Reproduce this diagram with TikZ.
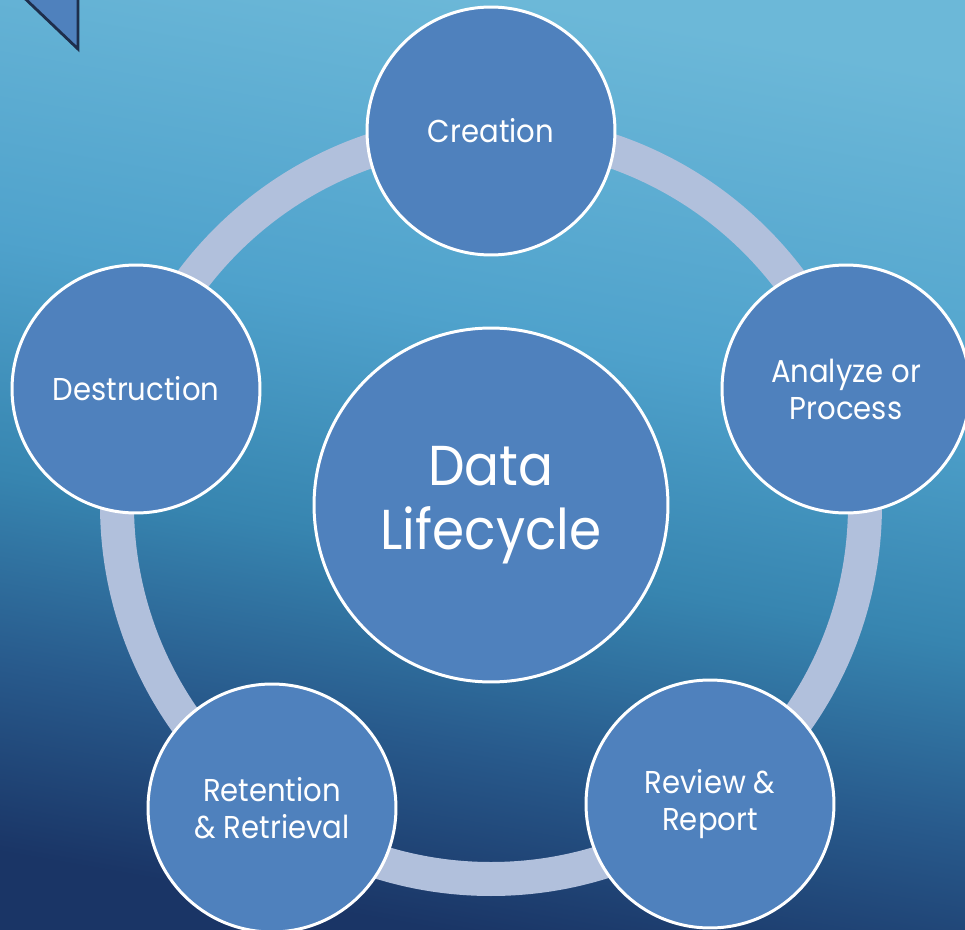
\documentclass[tikz,border=0pt]{standalone}
\usepackage{fontspec}
\setmainfont[FakeStretch=0.92]{Poppins}
\definecolor{bgA}{HTML}{6CB8D8}
\definecolor{bgB}{HTML}{4FA2CC}
\definecolor{bgC}{HTML}{3785B0}
\definecolor{bgD}{HTML}{285A8C}
\definecolor{bgE}{HTML}{1A3566}
\definecolor{circfill}{HTML}{4F81BD}
\definecolor{ringcol}{HTML}{B1C0DC}
\definecolor{edgedark}{HTML}{1E2E4C}
% the path's box spans 25bp..75bp of the shading
\pgfdeclareverticalshading{bgshade}{100bp}{color(0bp)=(bgE); color(25bp)=(bgE); color(35bp)=(bgD); color(45bp)=(bgC); color(57.5bp)=(bgB); color(75bp)=(bgA); color(100bp)=(bgA)}
\begin{document}
\begin{tikzpicture}[x=0.02cm,y=-0.02cm,
  stage/.style={circle, fill=circfill, draw=white, line width=1.7pt,
    minimum size=4.96cm, inner sep=0pt, text=white, align=center,
    font=\fontsize{18pt}{21pt}\selectfont},
  hub/.style={stage, minimum size=7.08cm,
    font=\fontsize{32pt}{36.8pt}\selectfont},
  ring/.style={draw=ringcol, line width=0.68cm}]
\useasboundingbox (0,0) rectangle (965,930);
\clip (0,0) rectangle (965,930);
% background
\shade[shading=bgshade, shading angle=-10] (0,0) rectangle (965,930);
% corner tab
\filldraw[fill=circfill, draw=edgedark, line width=1.6pt, line join=miter]
  (16,-10) -- (78,49) -- (78,-10) -- cycle;
% centre position and cycle ring
\coordinate (c) at (491,505);
\draw[ring] (c) circle[radius=374];
% stages
\node[hub] (hub) at (c) {Data\\Lifecycle};
\node[stage] (creation) at (491,131) {Creation};
\node[stage] (analyze) at (846,389) {Analyze or\\Process};
\node[stage] (review) at (710,804) {Review \&\\Report};
\node[stage] (retention) at (272,808) {Retention\\\& Retrieval};
\node[stage] (destruction) at (136,389) {Destruction};
\end{tikzpicture}
\end{document}
